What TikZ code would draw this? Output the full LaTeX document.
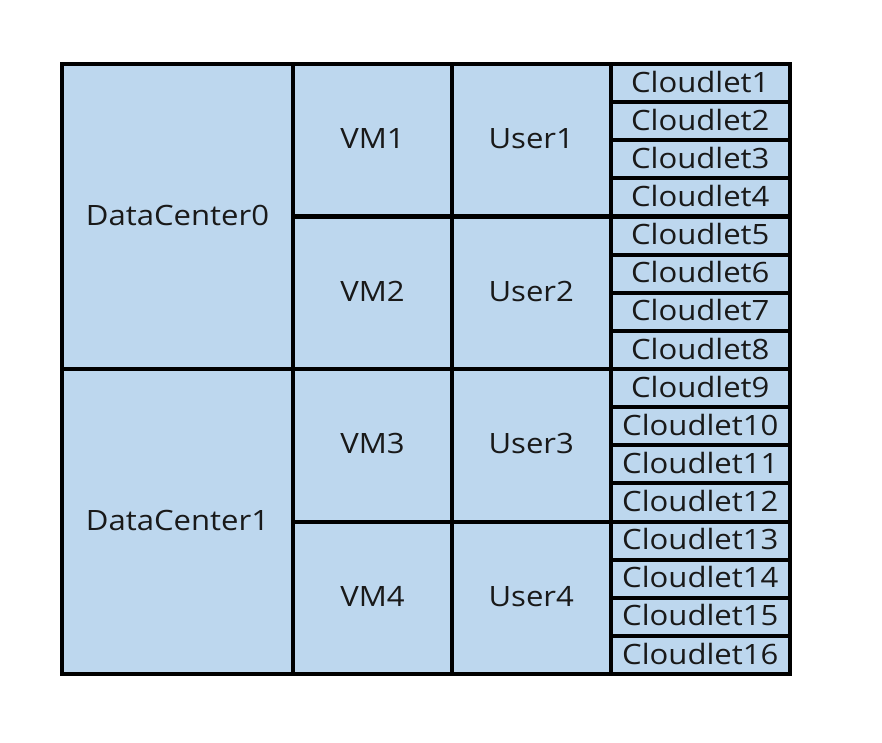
\documentclass[tikz,border=0pt]{standalone}
\usepackage{fontspec}
\setmainfont{Open Sans}[FakeStretch=1.11]
\definecolor{cellblue}{HTML}{BDD7EE}
\tikzset{
  cell/.style={draw=black, line width=4pt, fill=cellblue, inner sep=0pt, outer sep=0pt, anchor=north west,
    text=black!90, text depth=3pt, font=\fontsize{28}{28}\selectfont},
}
\begin{document}
\begin{tikzpicture}[x=1pt,y=-1pt]
\useasboundingbox (0,0) rectangle (882,743);
\def\rh{38.125}
% datacenters
\node[cell, minimum width=231pt, minimum height=305pt] (dc0) at (62,64) {DataCenter0};
\node[cell, minimum width=231pt, minimum height=305pt] (dc1) at (62,369) {DataCenter1};
% VMs and users
\foreach \i/\y in {1/64,2/216.5,3/369,4/521.5}{
  \node[cell, minimum width=159pt, minimum height=152.5pt] (vm\i) at (293,\y) {VM\i};
  \node[cell, minimum width=158.5pt, minimum height=152.5pt] (user\i) at (452,\y) {User\i};
}
% cloudlets
\foreach \k in {1,...,16}{
  \node[cell, minimum width=179.5pt, minimum height=\rh pt] (cl\k) at (610.5,{64+(\k-1)*\rh}) {Cloudlet\k};
}
\end{tikzpicture}
\end{document}
